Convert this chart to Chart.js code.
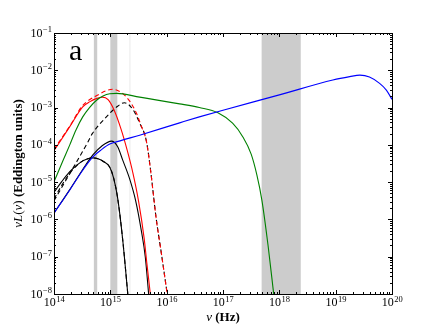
<!DOCTYPE html>
<html>
<head>
<meta charset="utf-8">
<script src="https://cdn.jsdelivr.net/npm/chart.js@4.4.0/dist/chart.umd.min.js"></script>
<style>
  html, body { margin: 0; padding: 0; background: #fff; }
</style>
</head>
<body>
<canvas id="sed" width="436" height="327"></canvas>
<script>
// all values are log10(nu / Hz) and log10(nu L_nu / L_Edd)
const redSolidNu = [14.0, 14.28, 14.51, 14.64, 14.75, 14.86, 14.96, 15.07, 15.19, 15.3, 15.4, 15.5, 15.6, 15.65, 15.71];
const redSolidL  = [-4.16, -3.51, -2.98, -2.84, -2.76, -2.72, -2.79, -3.08, -3.58, -4.15, -4.75, -5.5, -6.5, -7.2, -8.0];

const redDashNu = [14.0, 14.3, 14.5, 14.77, 15.04, 15.2, 15.34, 15.46, 15.55, 15.64, 15.72, 15.81, 15.91, 16.01];
const redDashL  = [-4.12, -3.45, -2.96, -2.67, -2.51, -2.6, -2.82, -3.14, -3.5, -3.9, -4.75, -5.93, -6.95, -8.0];

const blackDashNu = [14.0, 14.2, 14.4, 14.6, 14.68, 14.93, 15.1, 15.25, 15.4, 15.52, 15.64, 15.72, 15.81, 15.91, 16.01];
const blackDashL  = [-5.5, -4.98, -4.46, -3.93, -3.7, -3.25, -3.0, -2.87, -3.05, -3.41, -3.9, -4.75, -5.93, -6.95, -8.0];

const greenNu = [14.0, 14.16, 14.28, 14.39, 14.51, 14.63, 14.75, 14.87, 14.99, 15.11, 15.52, 16.23, 16.58, 16.91, 17.17, 17.35, 17.5, 17.6, 17.69, 17.8, 17.9];
const greenL  = [-4.99, -4.42, -4.0, -3.6, -3.25, -3.0, -2.81, -2.69, -2.63, -2.62, -2.72, -2.9, -3.0, -3.14, -3.42, -3.78, -4.25, -4.8, -5.48, -6.7, -8.0];

const blueNu = [14.0, 14.28, 14.51, 14.69, 14.85, 14.99, 15.2, 15.52, 16.23, 16.58, 17.0, 18.0, 18.95, 19.25, 19.43, 19.6, 19.78, 19.9, 20.0];
const blueL  = [-5.83, -5.21, -4.68, -4.32, -4.12, -3.98, -3.88, -3.74, -3.41, -3.25, -3.07, -2.66, -2.26, -2.17, -2.13, -2.18, -2.35, -2.53, -2.78];

const blackBNu = [14.0, 14.28, 14.51, 14.69, 14.85, 15.02, 15.13, 15.22, 15.34, 15.45, 15.55, 15.62, 15.68];
const blackBL  = [-5.83, -5.2, -4.66, -4.27, -4.03, -3.9, -4.05, -4.41, -4.9, -5.5, -6.3, -7.0, -8.0];

const blackCNu = [14.0, 14.14, 14.28, 14.4, 14.51, 14.6, 14.69, 14.78, 14.87, 14.99, 15.06, 15.13, 15.22, 15.31];
const blackCL  = [-5.27, -4.98, -4.72, -4.55, -4.43, -4.37, -4.35, -4.37, -4.44, -4.6, -4.9, -5.43, -6.55, -8.0];

const blackCDashNu = [14.0, 14.14, 14.28, 14.4, 14.51, 14.6, 14.69, 14.78, 14.87, 14.99, 15.06, 15.13, 15.22, 15.31];
const blackCDashL  = [-5.45, -5.08, -4.76, -4.56, -4.43, -4.37, -4.35, -4.37, -4.44, -4.6, -4.9, -5.43, -6.55, -8.0];

// shaded frequency bands (Hz)
const bandLo = [5.1e14, 1.0e15, 4.85e17];
const bandHi = [5.85e14, 1.33e15, 2.4e18];
const faintLo = [2.15e15];
const faintHi = [2.3e15];

const xTickExp = [14, 15, 16, 17, 18, 19, 20];
const yTickExp = [-8, -7, -6, -5, -4, -3, -2, -1];

const pts = (nu, l) => nu.map((v, i) => ({ x: 10 ** v, y: 10 ** l[i] }));

const SERIF = '"Liberation Serif", "DejaVu Serif", serif';

function line(ctx, x0, y0, x1, y1) {
  ctx.beginPath(); ctx.moveTo(x0, y0); ctx.lineTo(x1, y1); ctx.stroke();
}

function powLabel(ctx, exp, px, baseY, align) {
  const base = '10', sup = String(exp).replace('-', '\u2212');
  ctx.font = '12px ' + SERIF;
  const wb = ctx.measureText(base).width;
  ctx.font = '8.5px ' + SERIF;
  const ws = ctx.measureText(sup).width;
  const left = align === 'center' ? px - (wb + ws) / 2 : px - wb - ws - 0.5;
  ctx.textAlign = 'left';
  ctx.textBaseline = 'alphabetic';
  ctx.font = '12px ' + SERIF;
  ctx.fillText(base, left, baseY);
  ctx.font = '8.5px ' + SERIF;
  ctx.fillText(sup, left + wb + 0.5, baseY - 4.5);
}

// draws mixed-style text pieces centred on x = 0 of the current transform
function drawPieces(ctx, pieces, baseY) {
  let total = 0;
  pieces.forEach(p => { ctx.font = p.font; p.w = ctx.measureText(p.text).width; total += p.w; });
  let x = -total / 2;
  ctx.textAlign = 'left';
  pieces.forEach(p => { ctx.font = p.font; ctx.fillText(p.text, x, baseY); x += p.w; });
}

const sedDecor = {
  id: 'sedDecor',
  beforeDatasetsDraw(chart) {
    const { ctx, chartArea: a, scales: { x } } = chart;
    ctx.save();
    ctx.fillStyle = '#cccccc';
    bandLo.forEach((lo, i) => {
      const x0 = x.getPixelForValue(lo), x1 = x.getPixelForValue(bandHi[i]);
      ctx.fillRect(x0, a.top, x1 - x0, a.bottom - a.top);
    });
    ctx.fillStyle = '#f3f3f3';
    faintLo.forEach((lo, i) => {
      const x0 = x.getPixelForValue(lo), x1 = x.getPixelForValue(faintHi[i]);
      ctx.fillRect(x0, a.top, x1 - x0, a.bottom - a.top);
    });
    ctx.restore();
  },
  afterDraw(chart) {
    const { ctx, chartArea: a, scales: { x, y } } = chart;
    ctx.save();
    ctx.strokeStyle = '#000';
    ctx.fillStyle = '#000';
    ctx.lineWidth = 1;

    // frame
    ctx.strokeRect(Math.round(a.left) + 0.5, Math.round(a.top) + 0.5,
                   Math.round(a.right - a.left), Math.round(a.bottom - a.top));

    // x ticks, inward on top and bottom
    xTickExp.forEach((d, i) => {
      for (let k = 1; k <= 9; k++) {
        if (i === xTickExp.length - 1 && k > 1) break;
        const px = Math.round(x.getPixelForValue(k * 10 ** d)) + 0.5;
        const len = k === 1 ? 4 : 2;
        line(ctx, px, a.bottom, px, a.bottom - len);
        line(ctx, px, a.top, px, a.top + len);
      }
      powLabel(ctx, d, x.getPixelForValue(10 ** d), a.bottom + 12, 'center');
    });

    // y ticks, inward on left and right
    yTickExp.forEach((d, i) => {
      for (let k = 1; k <= 9; k++) {
        if (i === yTickExp.length - 1 && k > 1) break;
        const py = Math.round(y.getPixelForValue(k * 10 ** d)) + 0.5;
        const len = k === 1 ? 4 : 2;
        line(ctx, a.left, py, a.left + len, py);
        line(ctx, a.right, py, a.right - len, py);
      }
      powLabel(ctx, d, a.left - 2, y.getPixelForValue(10 ** d) + 3.5, 'right');
    });

    // axis titles
    ctx.save();
    ctx.translate((a.left + a.right) / 2, 0);
    drawPieces(ctx, [
      { text: '\u03BD', font: 'italic 13px ' + SERIF },
      { text: ' (Hz)', font: 'bold 13px ' + SERIF }
    ], 321);
    ctx.restore();

    ctx.save();
    ctx.translate(22, (a.top + a.bottom) / 2);
    ctx.rotate(-Math.PI / 2);
    drawPieces(ctx, [
      { text: '\u03BDL', font: 'italic 13px ' + SERIF },
      { text: '(', font: '13px ' + SERIF },
      { text: '\u03BD', font: 'italic 13px ' + SERIF },
      { text: ')', font: '13px ' + SERIF },
      { text: ' (Eddington units)', font: 'bold 13px ' + SERIF }
    ], 0);
    ctx.restore();

    // panel letter
    ctx.font = '30px ' + SERIF;
    ctx.textAlign = 'left';
    ctx.fillText('a', a.left + 15, a.top + 27);
    ctx.restore();
  }
};

const solid = (data, color) => ({
  data, borderColor: color, borderWidth: 1.1, pointRadius: 0,
  cubicInterpolationMode: 'monotone', fill: false
});
const dashed = (data, color) => Object.assign(solid(data, color), { borderDash: [4.5, 3] });

new Chart(document.getElementById('sed'), {
  type: 'line',
  data: {
    datasets: [
      solid(pts(blueNu, blueL), '#0000ff'),
      solid(pts(greenNu, greenL), '#008000'),
      solid(pts(redSolidNu, redSolidL), '#ff0000'),
      dashed(pts(redDashNu, redDashL), '#ff0000'),
      dashed(pts(blackDashNu, blackDashL), '#000000'),
      solid(pts(blackBNu, blackBL), '#000000'),
      solid(pts(blackCNu, blackCL), '#000000'),
      dashed(pts(blackCDashNu, blackCDashL), '#000000')
    ]
  },
  options: {
    responsive: false,
    devicePixelRatio: 1,
    animation: false,
    events: [],
    layout: { padding: { left: 54, right: 44, top: 33, bottom: 33 } },
    plugins: { legend: { display: false }, tooltip: { enabled: false } },
    scales: {
      x: { type: 'logarithmic', min: 1e14, max: 1e20, display: false },
      y: { type: 'logarithmic', min: 1e-8, max: 1e-1, display: false }
    }
  },
  plugins: [sedDecor]
});
</script>
</body>
</html>
